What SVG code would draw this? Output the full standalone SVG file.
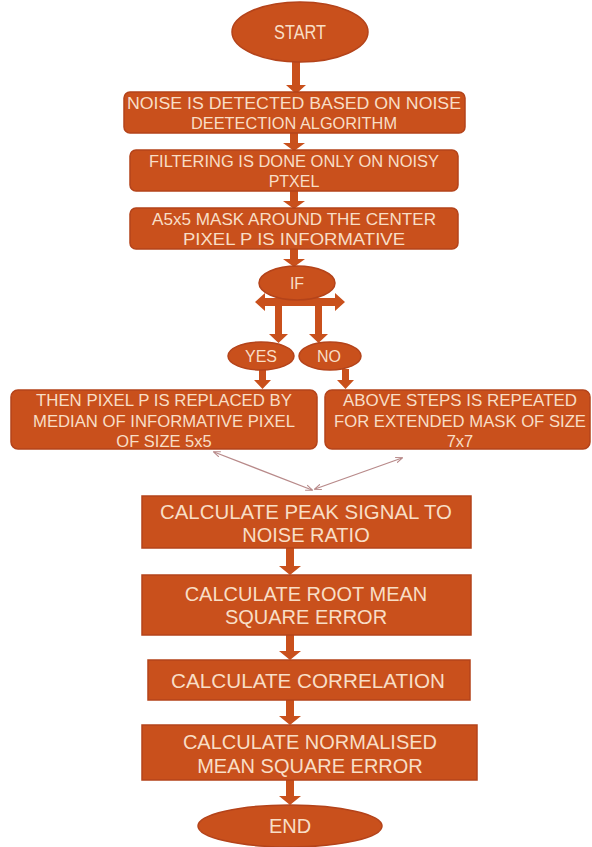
<svg xmlns="http://www.w3.org/2000/svg" width="592" height="847" viewBox="0 0 592 847">
<style>
.n{fill:#C9501C;stroke:#B4431A;stroke-width:1.5}
.t{fill:#F8DEC6;font-family:"Liberation Sans",Arial,sans-serif;text-anchor:middle}
.s{font-size:16px}
.m{font-size:16.5px}
.l{font-size:20px}
.a{fill:#C9501C}
.thin{stroke:#B88A8A;stroke-width:1.3;fill:none;marker-start:url(#h);marker-end:url(#h)}
</style>
<defs>
<marker id="h" viewBox="0 0 10 10" refX="9" refY="5" markerWidth="7" markerHeight="7" orient="auto-start-reverse" markerUnits="userSpaceOnUse">
<path d="M0,1 L10,5 L0,9" fill="none" stroke="#B88A8A" stroke-width="1.5"/>
</marker>
</defs>
<rect width="592" height="847" fill="#fff"/>
<g id="connectors">
<polygon class="a" points="292,62 300,62 300,85 306,85 296,94 286,85 292,85"/>
<polygon class="a" points="290,133 298,133 298,143 305,143 294,151 283,143 290,143"/>
<polygon class="a" points="290,191 298,191 298,201 305,201 294,209 283,201 290,201"/>
<polygon class="a" points="290,249 298,249 298,259 305,259 294,267 283,259 290,259"/>
<polygon class="a" points="255,302 265,293 265,298 335,298 335,293 345,302 335,311 335,306 265,306 265,311"/>
<polygon class="a" points="275,306 282,306 282,334 288,334 278.5,343 269,334 275,334"/>
<polygon class="a" points="315,306 322,306 322,334 328,334 318.5,343 309,334 315,334"/>
<polygon class="a" points="259,369 266,369 266,380 271,380 262.5,389 254,380 259,380"/>
<polygon class="a" points="342,369 349,369 349,380 354,380 345.5,389 337,380 342,380"/>
<line class="thin" x1="214" y1="452" x2="312" y2="490"/>
<line class="thin" x1="402" y1="458" x2="315" y2="489"/>
<polygon class="a" points="286,548 294,548 294,566 301,566 290,575 279,566 286,566"/>
<polygon class="a" points="286,635 294,635 294,651 301,651 290,660 279,651 286,651"/>
<polygon class="a" points="286,700 294,700 294,716 301,716 290,725 279,716 286,716"/>
<polygon class="a" points="286,780 294,780 294,796 301,796 290,805 279,796 286,796"/>
</g>
<g id="start"><ellipse class="n" cx="300" cy="32" rx="68" ry="30"/><text class="t l" x="300" y="39" textLength="52" lengthAdjust="spacingAndGlyphs">START</text></g>
<g id="detect"><rect class="n" x="124" y="92" width="341" height="41" rx="6"/><text class="t s" x="294" y="109" textLength="334" lengthAdjust="spacingAndGlyphs">NOISE IS DETECTED BASED ON NOISE</text><text class="t s" x="294" y="129" textLength="206" lengthAdjust="spacingAndGlyphs">DEETECTION ALGORITHM</text></g>
<g id="filter"><rect class="n" x="130" y="150" width="328" height="41" rx="6"/><text class="t s" x="294" y="167" textLength="290" lengthAdjust="spacingAndGlyphs">FILTERING IS DONE ONLY ON NOISY</text><text class="t s" x="294" y="187">PTXEL</text></g>
<g id="mask"><rect class="n" x="130" y="208" width="328" height="41" rx="6"/><text class="t s" x="294" y="225" textLength="284" lengthAdjust="spacingAndGlyphs">A5x5 MASK AROUND THE CENTER</text><text class="t s" x="294" y="245" textLength="222" lengthAdjust="spacingAndGlyphs">PIXEL P IS INFORMATIVE</text></g>
<g id="if"><ellipse class="n" cx="297" cy="283" rx="38" ry="17"/><text class="t s" x="297" y="289">IF</text></g>
<g id="yes"><ellipse class="n" cx="261" cy="356" rx="33" ry="14"/><text class="t s" x="261" y="362">YES</text></g>
<g id="no"><ellipse class="n" cx="330" cy="356" rx="31" ry="14"/><text class="t s" x="329" y="362">NO</text></g>
<g id="replace"><rect class="n" x="11" y="390" width="306" height="59" rx="7"/><text class="t m" x="164" y="406" textLength="256" lengthAdjust="spacingAndGlyphs">THEN PIXEL P IS REPLACED BY</text><text class="t m" x="164" y="427" textLength="262" lengthAdjust="spacingAndGlyphs">MEDIAN OF INFORMATIVE PIXEL</text><text class="t m" x="164" y="447">OF SIZE 5x5</text></g>
<g id="repeat"><rect class="n" x="325" y="390" width="265" height="59" rx="7"/><text class="t m" x="460" y="406" textLength="234" lengthAdjust="spacingAndGlyphs">ABOVE STEPS IS REPEATED</text><text class="t m" x="460" y="427" textLength="252" lengthAdjust="spacingAndGlyphs">FOR EXTENDED MASK OF SIZE</text><text class="t m" x="460" y="447">7x7</text></g>
<g id="psnr"><rect class="n" x="142" y="496" width="329" height="52"/><text class="t l" x="306" y="519" textLength="292" lengthAdjust="spacingAndGlyphs">CALCULATE PEAK SIGNAL TO</text><text class="t l" x="306" y="542">NOISE RATIO</text></g>
<g id="rmse"><rect class="n" x="142" y="575" width="329" height="60"/><text class="t l" x="306" y="601">CALCULATE ROOT MEAN</text><text class="t l" x="306" y="624">SQUARE ERROR</text></g>
<g id="corr"><rect class="n" x="148" y="660" width="322" height="40"/><text class="t l" x="308" y="688" textLength="274" lengthAdjust="spacingAndGlyphs">CALCULATE CORRELATION</text></g>
<g id="nmse"><rect class="n" x="142" y="725" width="335" height="55"/><text class="t l" x="310" y="749">CALCULATE NORMALISED</text><text class="t l" x="310" y="773">MEAN SQUARE ERROR</text></g>
<g id="end"><ellipse class="n" cx="290" cy="826" rx="92" ry="21"/><text class="t l" x="290" y="833">END</text></g>
</svg>
